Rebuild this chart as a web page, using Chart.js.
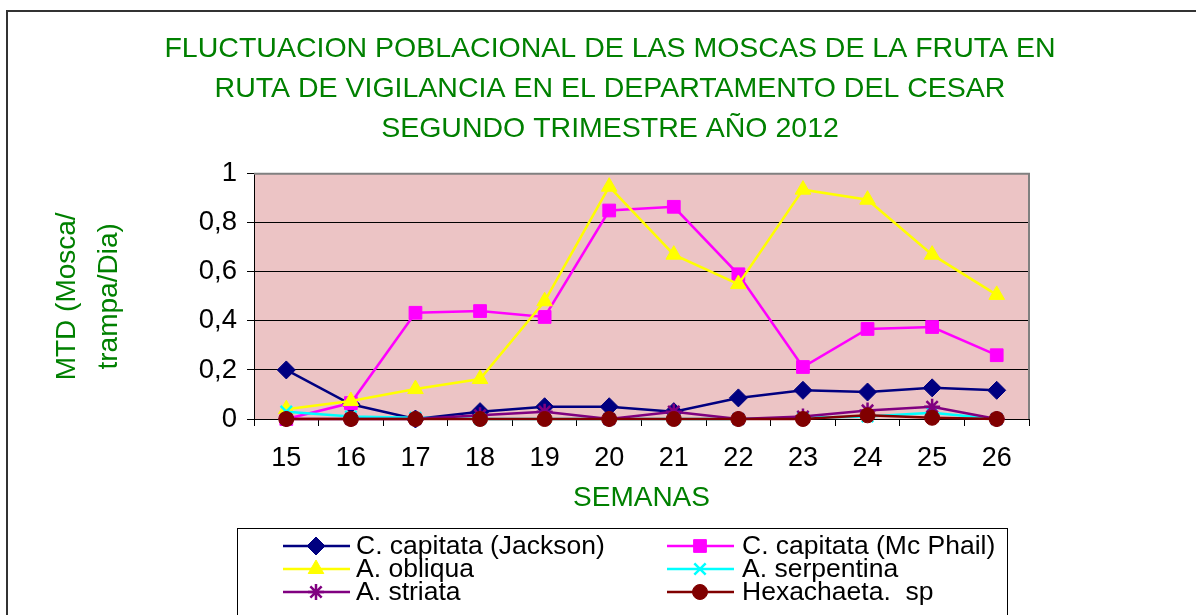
<!DOCTYPE html>
<html>
<head>
<meta charset="utf-8">
<script src="https://cdn.jsdelivr.net/npm/chart.js@4/dist/chart.umd.min.js"></script>
<style>
  html, body { margin: 0; padding: 0; background: #fff; }
  #wrap { width: 1196px; height: 615px; position: relative; }
</style>
</head>
<body>
<div id="wrap"><canvas id="moscas"></canvas></div>
<script>
// data
const semanas = ['15', '16', '17', '18', '19', '20', '21', '22', '23', '24', '25', '26'];
const jackson = [0.2, 0.06, 0, 0.03, 0.05, 0.05, 0.03, 0.086, 0.117, 0.11, 0.127, 0.117];
const mcPhail = [0, 0.065, 0.433, 0.44, 0.416, 0.85, 0.865, 0.59, 0.212, 0.367, 0.375, 0.26];
const obliqua = [0.04, 0.073, 0.122, 0.163, 0.48, 0.947, 0.67, 0.55, 0.935, 0.894, 0.67, 0.506];
const serpentina = [0.03, 0.01, 0.005, 0, 0, 0, 0, 0, 0.005, 0.01, 0.025, 0];
const striata = [0, 0, 0, 0.015, 0.03, 0, 0.03, 0, 0.01, 0.035, 0.05, 0];
const hexachaeta = [0, 0, 0, 0, 0, 0, 0, 0, 0, 0.015, 0.005, 0];
const yTickLabels = ['0', '0,2', '0,4', '0,6', '0,8', '1'];

const green = '#008000';
const font = 'Liberation Sans, Arial, sans-serif';

function serie(label, data, color, style, radius, order) {
    const cross = style === 'crossRot' || style === 'star';
    return {
        label: label,
        data: data,
        borderColor: color,
        backgroundColor: color,
        borderWidth: 2.5,
        pointStyle: style,
        pointRadius: radius,
        pointHoverRadius: radius,
        pointBorderWidth: cross ? 2.5 : 1,
        pointBorderColor: color,
        pointBackgroundColor: color,
        tension: 0,
        clip: false,
        order: order
    };
}

//plot background + frame
const frame = {
    id: 'frame',
    beforeDraw(chart) {
        const c = chart.ctx, a = chart.chartArea;
        c.save();
        c.fillStyle = '#ffffff';
        c.fillRect(0, 0, chart.width, chart.height);
        c.strokeStyle = '#333';
        c.lineWidth = 2;
        c.strokeRect(7, 11, 1300, 800);
        c.fillStyle = '#ecc4c5';
        c.fillRect(a.left, a.top, a.right - a.left, a.bottom - a.top);
        c.restore();
    },
    beforeDatasetsDraw(chart) {
        const c = chart.ctx, a = chart.chartArea;
        c.save();
        c.strokeStyle = '#808080';
        c.lineWidth = 2;
        c.beginPath();
        c.moveTo(a.left, a.top);
        c.lineTo(a.right, a.top);
        c.lineTo(a.right, a.bottom);
        c.stroke();
        c.restore();
    }
};

//legend box, two columns
const legendBox = {
    id: 'legendBox',
    afterDraw(chart) {
        const c = chart.ctx;
        c.save();
        c.strokeStyle = '#000';
        c.lineWidth = 1;
        c.strokeRect(237.5, 528.5, 770, 120);
        const cols = [[283, 356], [667, 742]];
        const rows = [546, 569, 592];
        c.font = '26.5px ' + font;
        c.textBaseline = 'middle';
        chart.data.datasets.forEach((ds, i) => {
            const col = cols[i % 2], y = rows[Math.floor(i / 2)];
            c.strokeStyle = ds.borderColor;
            c.fillStyle = ds.backgroundColor;
            c.lineWidth = 2.5;
            c.beginPath();
            c.moveTo(col[0], y);
            c.lineTo(col[0] + 67, y);
            c.stroke();
            c.lineWidth = ds.pointBorderWidth;
            Chart.helpers.drawPoint(c, {
                pointStyle: ds.pointStyle,
                radius: ds.pointRadius,
                borderWidth: ds.pointBorderWidth,
                rotation: 0
            }, col[0] + 33, y);
            c.fillStyle = '#000';
            c.fillText(ds.label, col[1], y + 1);
        });
        c.restore();
    }
};

//invisible right axis keeps the plot narrow but lets the title centre on the page
const spacer = {
    position: 'right',
    display: true,
    afterFit(scale) { scale.width = 167; },
    grid: { display: false, drawTicks: false },
    border: { display: false },
    ticks: { display: false }
};

const ctx = document.getElementById('moscas').getContext('2d');
const chart = new Chart(ctx, {
    type: 'line',
    data: {
        labels: semanas,
        datasets: [
            serie('C. capitata (Jackson)', jackson, '#000080', 'rectRot', 9, 5),
            serie('C. capitata (Mc Phail)', mcPhail, '#ff00ff', 'rect', 9, 4),
            serie('A. obliqua', obliqua, '#ffff00', 'triangle', 9, 3),
            serie('A. serpentina', serpentina, '#00ffff', 'crossRot', 8, 2),
            serie('A. striata', striata, '#800080', 'star', 8, 1),
            serie('Hexachaeta.  sp', hexachaeta, '#800000', 'circle', 7.5, 0)
        ]
    },
    options: {
        responsive: true,
        maintainAspectRatio: false,
        animation: false,
        layout: {
            padding: { left: 24, right: 0, top: 14, bottom: 100 }
        },
        plugins: {
            legend: { display: false },
            tooltip: { enabled: false },
            title: {
                display: true,
                text: ['FLUCTUACION POBLACIONAL DE LAS MOSCAS DE LA FRUTA EN',
                       'RUTA DE VIGILANCIA EN EL DEPARTAMENTO DEL CESAR',
                       'SEGUNDO TRIMESTRE AÑO 2012'],
                color: green,
                font: { family: font, size: 28.5, weight: 'normal', lineHeight: 1.4 },
                padding: { top: 15, bottom: 25 }
            }
        },
        scales: {
            x: {
                offset: true,
                afterFit(scale) { scale.height = 96; },
                grid: {
                    offset: true,
                    drawOnChartArea: false,
                    tickLength: 7,
                    color: '#000'
                },
                border: { color: '#000', width: 1 },
                ticks: {
                    color: '#000',
                    font: { family: font, size: 27, lineHeight: 1.2 },
                    padding: 16,
                    autoSkip: false,
                    maxRotation: 0
                },
                title: {
                    display: true,
                    text: 'SEMANAS',
                    color: green,
                    font: { family: font, size: 28, lineHeight: 1.2 },
                    padding: { top: 0, bottom: 0 }
                }
            },
            y: {
                min: 0,
                max: 1,
                afterFit(scale) { scale.width = 230; },
                grid: {
                    color: (c) => c.tick && c.tick.value === 1 ? '#808080' : '#000',
                    tickColor: '#000',
                    tickLength: 7,
                    lineWidth: 1
                },
                border: { color: '#000', width: 1 },
                ticks: {
                    stepSize: 0.2,
                    color: '#000',
                    font: { family: font, size: 27.5 },
                    padding: 10,
                    callback: (v, i) => yTickLabels[i]
                },
                title: {
                    display: true,
                    text: ['MTD (Mosca/', 'trampa/Dia)'],
                    color: green,
                    font: { family: font, size: 28, lineHeight: 1.5 },
                    padding: { top: 22, bottom: 0 }
                }
            },
            spacer: spacer
        }
    },
    plugins: [frame, legendBox]
});
</script>
</body>
</html>
